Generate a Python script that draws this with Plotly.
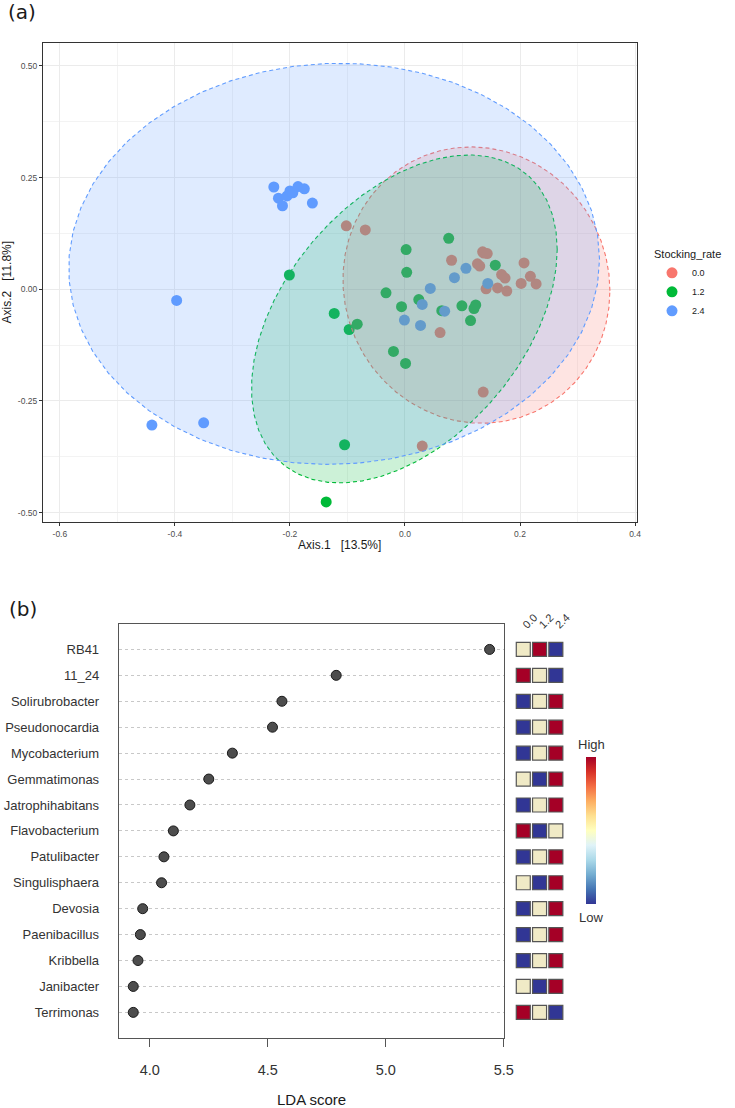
import numpy as np
import plotly.graph_objects as go

# ---------------- Panel (a): PCoA ordination ----------------
GROUPS = ["0.0", "1.2", "2.4"]
GROUP_COLORS = {"0.0": "#F8766D", "1.2": "#00BA38", "2.4": "#619CFF"}

AX1_00 = [-0.102, -0.069, 0.081, 0.126, 0.130, 0.135, 0.137, 0.143, 0.207, 0.168,
          0.174, 0.218, 0.202, 0.228, 0.141, 0.161, 0.177, 0.061, 0.136, 0.030]
AX2_00 = [0.142, 0.133, 0.065, 0.057, 0.052, 0.084, 0.081, 0.080, 0.059, 0.033,
          0.025, 0.029, 0.013, 0.012, 0.001, 0.003, -0.004, -0.097, -0.230, -0.351]

AX1_12 = [0.076, 0.002, 0.003, 0.157, -0.033, -0.201, 0.024, -0.006, 0.064, 0.099,
          0.123, 0.120, 0.114, -0.123, -0.083, -0.097, -0.020, 0.001, -0.105, -0.137]
AX2_12 = [0.114, 0.089, 0.038, 0.054, -0.008, 0.032, -0.023, -0.039, -0.048, -0.037,
          -0.035, -0.043, -0.070, -0.054, -0.078, -0.090, -0.139, -0.166, -0.348, -0.476]

AX1_24 = [-0.228, -0.220, -0.213, -0.205, -0.200, -0.195, -0.186, -0.175, -0.161, -0.397,
          -0.440, -0.350, 0.044, 0.030, -0.001, 0.027, 0.069, 0.086, 0.106, 0.144]
AX2_24 = [0.229, 0.204, 0.187, 0.209, 0.220, 0.216, 0.230, 0.225, 0.193, -0.025,
          -0.304, -0.299, 0.002, -0.034, -0.069, -0.081, -0.049, 0.026, 0.047, 0.013]

X_TICKS = [-0.6, -0.4, -0.2, 0.0, 0.2, 0.4]
X_TICK_LABELS = ["-0.6", "-0.4", "-0.2", "0.0", "0.2", "0.4"]
Y_TICKS = [-0.5, -0.25, 0.0, 0.25, 0.5]
Y_TICK_LABELS = ["-0.50", "-0.25", "0.00", "0.25", "0.50"]

# ---------------- Panel (b): LEfSe LDA scores ----------------
GENERA = ["RB41", "11_24", "Solirubrobacter", "Pseudonocardia", "Mycobacterium",
          "Gemmatimonas", "Jatrophihabitans", "Flavobacterium", "Patulibacter",
          "Singulisphaera", "Devosia", "Paenibacillus", "Kribbella", "Janibacter",
          "Terrimonas"]
LDA = [5.44, 4.79, 4.56, 4.52, 4.35, 4.25, 4.17, 4.10, 4.06, 4.05,
       3.97, 3.96, 3.95, 3.93, 3.93]
# relative abundance per stocking rate: -1 low, 0 middle, 1 high
LEVEL_00 = [0, 1, -1, -1, -1, 0, -1, 1, -1, 0, -1, -1, -1, 0, 1]
LEVEL_12 = [1, 0, 0, 0, 0, -1, 0, -1, 0, -1, 0, 0, 0, -1, 0]
LEVEL_24 = [-1, -1, 1, 1, 1, 1, 1, 0, 1, 1, 1, 1, 1, 1, -1]
LDA_TICKS = [4.0, 4.5, 5.0, 5.5]
LDA_TICK_LABELS = ["4.0", "4.5", "5.0", "5.5"]

LEVEL_COLORS = {-1: "#313695", 0: "#F0EAC6", 1: "#A50026"}
RDYLBU_R = ["#313695", "#4575b4", "#74add1", "#abd9e9", "#e0f3f8", "#ffffbf",
            "#fee090", "#fdae61", "#f46d43", "#d73027", "#a50026"]

W, H = 735, 1108


def px(x):
    return x / W


def py(y):
    return 1 - y / H


def ellipse(xs, ys, level=0.95, segments=51):
    # same construction as ggplot2::stat_ellipse(type = "norm")
    xy = np.column_stack([xs, ys])
    cov = np.cov(xy.T, ddof=1)
    center = xy.mean(axis=0)
    dfd = len(xs) - 1
    fq = dfd / 2 * ((1 - level) ** (-2 / dfd) - 1)   # qf(level, 2, dfd)
    radius = np.sqrt(2 * fq)
    ang = np.linspace(0, 2 * np.pi, segments + 1)
    circ = np.column_stack([np.cos(ang), np.sin(ang)])
    U = np.linalg.cholesky(cov).T
    pts = center + radius * circ @ U
    return pts[:, 0], pts[:, 1]


def rgba(hexc, a):
    hexc = hexc.lstrip("#")
    r, g, b = int(hexc[0:2], 16), int(hexc[2:4], 16), int(hexc[4:6], 16)
    return f"rgba({r},{g},{b},{a})"


DATA_A = {"0.0": (AX1_00, AX2_00), "1.2": (AX1_12, AX2_12), "2.4": (AX1_24, AX2_24)}

fig = go.Figure()

for g in GROUPS:
    xs, ys = DATA_A[g]
    fig.add_trace(go.Scatter(
        x=xs, y=ys, mode="markers", name=g, xaxis="x", yaxis="y",
        marker=dict(size=11, color=GROUP_COLORS[g]), legendgroup=g))

for g in GROUPS:
    xs, ys = DATA_A[g]
    ex, ey = ellipse(xs, ys)
    fig.add_trace(go.Scatter(
        x=ex, y=ey, mode="lines", fill="toself", fillcolor=rgba(GROUP_COLORS[g], 0.2),
        line=dict(color=GROUP_COLORS[g], width=1.1, dash="4px,3px"),
        showlegend=False, hoverinfo="skip", xaxis="x", yaxis="y"))

# Panel (b) dots
fig.add_trace(go.Scatter(
    x=LDA, y=GENERA, mode="markers", xaxis="x2", yaxis="y2", showlegend=False,
    marker=dict(size=10, color="#4D4D4D", line=dict(color="#1A1A1A", width=1)),
    cliponaxis=False))

# Panel (b) abundance squares
for g, lev in zip(GROUPS, [LEVEL_00, LEVEL_12, LEVEL_24]):
    fig.add_trace(go.Scatter(
        x=[g] * len(GENERA), y=GENERA, mode="markers", xaxis="x3", yaxis="y3",
        showlegend=False, hoverinfo="skip", cliponaxis=False,
        marker=dict(symbol="square", size=14, color=[LEVEL_COLORS[v] for v in lev],
                    line=dict(color="#555555", width=1.2))))

# colour bar
fig.add_trace(go.Scatter(
    x=[GROUPS[0]], y=[GENERA[0]], mode="markers", xaxis="x3", yaxis="y3",
    showlegend=False, hoverinfo="skip",
    marker=dict(size=1, opacity=0, color=[0], cmin=-1, cmax=1,
                colorscale=[[i / 10, c] for i, c in enumerate(RDYLBU_R)],
                showscale=True,
                colorbar=dict(x=px(594.3), xanchor="left", y=py(830.3), yanchor="middle",
                              len=147, lenmode="pixels", thickness=10, thicknessmode="pixels",
                              showticklabels=False, ticks="", outlinewidth=0, xpad=0, ypad=0))))

font_family = "Liberation Sans, Arial, sans-serif"

fig.update_layout(
    width=W, height=H, autosize=False,
    margin=dict(l=0, r=0, t=0, b=0),
    paper_bgcolor="white", plot_bgcolor="white",
    font=dict(family=font_family, color="#1A1A1A"),
    showlegend=True,
    legend=dict(x=px(661), y=py(244), xanchor="left", yanchor="top",
                title=dict(text="Stocking_rate", font=dict(size=11, color="#1A1A1A")),
                font=dict(size=9, color="#1A1A1A"), bgcolor="rgba(0,0,0,0)",
                tracegroupgap=0),
    xaxis=dict(domain=[px(43.5), px(645.5)], range=[-0.6295, 0.4029], anchor="y",
               tickmode="array", tickvals=X_TICKS, ticktext=X_TICK_LABELS,
               ticks="outside", ticklen=3, tickcolor="#333333",
               tickfont=dict(size=8.5, color="#4D4D4D"),
               showgrid=True, gridcolor="#EBEBEB", gridwidth=1,
               minor=dict(tickmode="linear", tick0=-0.5, dtick=0.2, showgrid=True,
                          gridcolor="#F3F3F3", gridwidth=0.6, ticks=""),
               zeroline=False, showline=True, mirror=True, linecolor="#333333", linewidth=1),
    yaxis=dict(domain=[py(522.3), py(42.7)], range=[-0.5216, 0.552], anchor="x",
               tickmode="array", tickvals=Y_TICKS, ticktext=Y_TICK_LABELS,
               ticks="outside", ticklen=3, tickcolor="#333333",
               tickfont=dict(size=8.5, color="#4D4D4D"),
               showgrid=True, gridcolor="#EBEBEB", gridwidth=1,
               minor=dict(tickmode="linear", tick0=0.125, dtick=0.25, showgrid=True,
                          gridcolor="#F3F3F3", gridwidth=0.6, ticks=""),
               zeroline=False, showline=True, mirror=True, linecolor="#333333", linewidth=1),
    xaxis2=dict(domain=[px(120.5), px(510.7)], range=[3.869, 5.5], anchor="y2",
                tickmode="array", tickvals=LDA_TICKS, ticktext=LDA_TICK_LABELS,
                ticks="outside", ticklen=8, tickcolor="#555555", ticklabelstandoff=10,
                tickfont=dict(size=14.5, color="#333333"),
                showgrid=False, zeroline=False, showline=True, mirror=True,
                linecolor="#555555", linewidth=1.3),
    yaxis2=dict(domain=[py(1038.3), py(623.5)], type="category", categoryorder="array",
                categoryarray=GENERA, range=[len(GENERA), -1], anchor="x2",
                ticks="", ticklabelstandoff=16, tickfont=dict(size=13, color="#333333"),
                showgrid=True, gridcolor="#C8C8C8", griddash="dot", gridwidth=1,
                zeroline=False, showline=True, mirror=True, linecolor="#555555", linewidth=1.3),
    xaxis3=dict(domain=[px(522.25), px(571.75)], type="category", categoryorder="array",
                categoryarray=GROUPS, range=[-0.5, 2.5], anchor="free", position=py(633),
                side="top", tickangle=-45, ticks="", showline=False, showgrid=False,
                zeroline=False, tickfont=dict(size=11, color="#333333")),
    yaxis3=dict(domain=[py(1038.3), py(623.5)], type="category", categoryorder="array",
                categoryarray=GENERA, range=[len(GENERA), -1], anchor="x3",
                visible=False),
)

ann = [
    dict(text="(a)", x=px(6), y=py(12), xanchor="left", yanchor="middle",
         font=dict(size=20, color="#1A1A1A", family="DejaVu Sans")),
    dict(text="(b)", x=px(7), y=py(609), xanchor="left", yanchor="middle",
         font=dict(size=20, color="#1A1A1A", family="DejaVu Sans")),
    dict(text="Axis.1\u00a0\u00a0\u00a0[13.5%]", x=px(344.5), y=py(545), xanchor="center",
         yanchor="middle", font=dict(size=12, color="#1A1A1A")),
    dict(text="Axis.2\u00a0\u00a0\u00a0[11.8%]", x=px(7), y=py(282.5), xanchor="center",
         yanchor="middle", textangle=-90, font=dict(size=12, color="#1A1A1A")),
    dict(text="LDA score", x=px(315.6), y=py(1099), xanchor="center", yanchor="middle",
         font=dict(size=15, color="#1A1A1A")),
    dict(text="High", x=px(599.3), y=py(744), xanchor="center", yanchor="middle",
         font=dict(size=13, color="#333333")),
    dict(text="Low", x=px(599.3), y=py(917), xanchor="center", yanchor="middle",
         font=dict(size=13, color="#333333")),
]
for a in ann:
    a.update(xref="paper", yref="paper", showarrow=False)
fig.update_layout(annotations=ann)

fig.write_html("out.html", config={"displayModeBar": False},
               post_script="document.body.style.margin='0px';document.body.style.padding='0px';")
